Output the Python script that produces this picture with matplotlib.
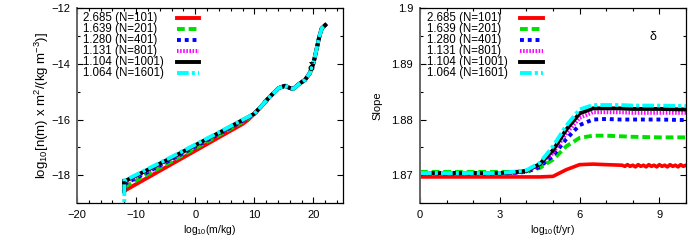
import numpy as np
import matplotlib
matplotlib.use('Agg')
from matplotlib import pyplot as plt
from matplotlib.lines import Line2D
from matplotlib.ticker import MultipleLocator, FixedLocator

plt.rcParams.update({'font.family': ['Liberation Sans', 'DejaVu Sans'], 'font.size': 8,
                     'mathtext.fontset': 'custom', 'mathtext.rm': 'Liberation Sans',
                     'mathtext.it': 'Liberation Sans:italic'})

labels = ['2.685 (N=101)', '1.639 (N=201)', '1.280 (N=401)',
          '1.131 (N=801)', '1.104 (N=1001)', '1.064 (N=1601)']
colors = ['#ff0000', '#00e000', '#0000ff', '#ff00ff', '#000000', '#00ffff']
styles = ['-', (0, (2, 1)), (0, (1, 1)), (0, (0.4, 0.4)), '-', (0, (3, 0.8, 0.8, 0.8))]

# left panel: log10 m vs log10 n(m) m^2
mass_head = [-12, -8, -4, 0, 4, 8, 9]
mass_tail = [10.0, 11.2, 12.4, 14.1, 15.2, 16.0, 16.6, 17.4, 18.6, 19.4, 20.0, 20.5, 21.0, 21.4, 22.0]
n_tail = [-15.79, -15.52, -15.23, -14.87, -14.79, -14.87, -14.9, -14.75, -14.57, -14.33,
          -13.98, -13.5, -13.02, -12.73, -12.61]
n_red = [-18.56, -18.08, -17.6, -17.12, -16.64, -16.16, -16.0]
n_green = [-18.42, -17.96, -17.5, -17.03, -16.56, -16.09, -15.96]
n_blue = [-18.32, -17.88, -17.43, -16.97, -16.52, -16.05, -15.93]
n_magenta = [-18.26, -17.83, -17.39, -16.94, -16.49, -16.03, -15.92]
n_black = [-18.22, -17.8, -17.37, -16.92, -16.48, -16.02, -15.91]
n_cyan = [-18.2, -17.77, -17.34, -16.9, -16.46, -16.01, -15.9]
n_all = [n_red, n_green, n_blue, n_magenta, n_black, n_cyan]

# right panel: log10 t vs slope
t = [0, 1, 2, 3, 3.5, 4.0, 4.5, 5.0, 5.5, 6.0, 6.5, 7.0, 7.5, 8.0, 9.0, 10.0]
s_red = [1.8697, 1.8697, 1.8697, 1.8697, 1.8697, 1.8697, 1.8697, 1.8698, 1.8710, 1.8719,
         1.8720, 1.8719, 1.8718, 1.8718, 1.8717, 1.8717]
s_green = [1.8706, 1.8706, 1.8706, 1.8706, 1.8706, 1.8707, 1.8713, 1.8728, 1.8752, 1.8767,
           1.8771, 1.8771, 1.8770, 1.8769, 1.8768, 1.8768]
s_blue = [1.8703, 1.8703, 1.8703, 1.8703, 1.8704, 1.8706, 1.8715, 1.8735, 1.8765, 1.8790,
          1.8800, 1.8801, 1.8800, 1.8800, 1.8800, 1.8799]
s_magenta = [1.8703, 1.8703, 1.8703, 1.8703, 1.8704, 1.8707, 1.8718, 1.8740, 1.8775, 1.8803,
             1.8813, 1.8813, 1.8813, 1.8812, 1.8812, 1.8812]
s_black = [1.8704, 1.8704, 1.8704, 1.8704, 1.8705, 1.8708, 1.8720, 1.8745, 1.8782, 1.8811,
           1.8820, 1.8820, 1.8820, 1.8819, 1.8819, 1.8818]
s_cyan = [1.8704, 1.8704, 1.8704, 1.8704, 1.8706, 1.8709, 1.8722, 1.8752, 1.8789, 1.8818,
          1.8826, 1.8826, 1.8826, 1.8825, 1.8825, 1.8824]
s_all = [s_red, s_green, s_blue, s_magenta, s_black, s_cyan]
# jitter of the red curve at late times
t_noise = [7.6, 7.7, 7.8, 7.9, 8.0, 8.1, 8.2, 8.3, 8.4, 8.5, 8.6, 8.7, 8.8, 8.9, 9.0,
           9.1, 9.2, 9.3, 9.4, 9.5, 9.6, 9.7, 9.8, 9.9, 10.0, 10.1]
s_noise = [1.8718, 1.8716, 1.8719, 1.8716, 1.8718, 1.8715, 1.8719, 1.8716, 1.8718, 1.8715,
           1.8719, 1.8716, 1.8718, 1.8715, 1.8719, 1.8716, 1.8718, 1.8715, 1.8719, 1.8716,
           1.8718, 1.8715, 1.8719, 1.8716, 1.8718, 1.8716]

fig = plt.figure(figsize=(7, 2.45), dpi=100)
ax1 = fig.add_axes([0.11, 0.171, 0.38, 0.796])
ax2 = fig.add_axes([0.6, 0.171, 0.38, 0.796])

for i in range(6):
    x = mass_head + mass_tail
    y = n_all[i] + n_tail
    if i == 5:
        x = [-12] + x
        y = [-19.5] + y
    if i == 4:
        x = [-12, -12] + x
        y = [-18.2, -18.6] + y
    ax1.plot(x, y, color=colors[i], ls=styles[i], lw=2.8)

for i in range(6):
    x = list(t)
    y = list(s_all[i])
    if i == 0:
        x = t[:12] + t_noise
        y = s_red[:12] + s_noise
        ax2.plot(x, y, color=colors[i], ls=styles[i], lw=2.6)
    else:
        ax2.plot(x, y, color=colors[i], ls=styles[i], lw=2.8)

ax1.set_xlim(-20, 25)
ax1.set_ylim(-19, -12)
ax1.xaxis.set_major_locator(FixedLocator([-20, -10, 0, 10, 20]))
ax1.xaxis.set_minor_locator(MultipleLocator(2))
ax1.yaxis.set_major_locator(FixedLocator([-12, -14, -16, -18]))
ax1.yaxis.set_minor_locator(MultipleLocator(1))
ax1.set_xlabel('log$_{10}$(m/kg)', labelpad=2, fontsize=7.5)
ax1.set_ylabel('log$_{10}$[n(m) x m$^2$/(kg m$^{-3}$)]', labelpad=0, fontsize=9.5)
ax1.text(307, 174, 'δ', transform=None, fontsize=9)

ax2.set_xlim(0, 10)
ax2.set_ylim(1.865, 1.9)
ax2.xaxis.set_major_locator(FixedLocator([0, 3, 6, 9]))
ax2.xaxis.set_minor_locator(MultipleLocator(1))
ax2.yaxis.set_major_locator(FixedLocator([1.87, 1.88, 1.89, 1.9]))
ax2.yaxis.set_minor_locator(MultipleLocator(0.005))
ax2.set_yticklabels(['1.87', '1.88', '1.89', '1.9'])
ax2.set_xlabel('log$_{10}$(t/yr)', labelpad=2, fontsize=7.5)
ax2.set_ylabel('Slope', labelpad=6, fontsize=8)

for ax in (ax1, ax2):
    ax.tick_params(which='both', direction='in', top=True, right=True, labelsize=8, pad=5)
    ax.tick_params(which='major', length=4, width=0.8)
    ax.tick_params(which='minor', length=2.5, width=0.8)
    for sp in ax.spines.values():
        sp.set_linewidth(0.9)
    ax.spines['left'].set_color('#666666')
    ax.spines['left'].set_linewidth(1.4)

# gnuplot-style keys: text left-aligned, line sample on the right
def add_key(text_x, line_x0, line_x1):
    for i in range(6):
        py = 18 + 11 * i
        fy = 1 - py / 245
        fig.text(text_x / 700, fy, labels[i], fontsize=8.3, ha='left', va='center')
        fig.add_artist(Line2D([line_x0 / 700, line_x1 / 700], [fy, fy], transform=fig.transFigure,
                              color=colors[i], ls=styles[i], lw=2.8))

add_key(83, 177, 199)
add_key(427, 520, 543)

# delta label on right panel
fig.text(649 / 700, 1 - 40 / 245, 'δ', fontsize=9)

fig.savefig('out.png', dpi=100)
